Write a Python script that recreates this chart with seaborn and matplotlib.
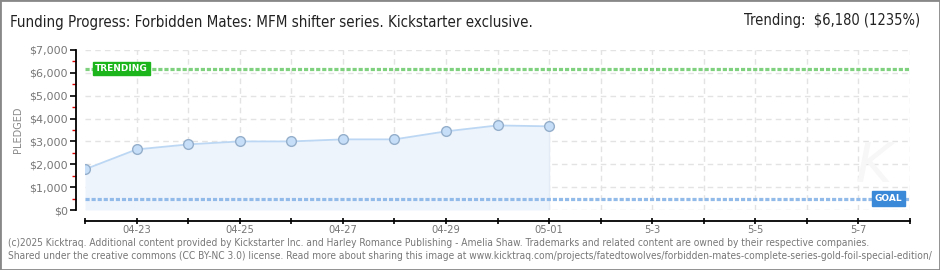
import matplotlib
matplotlib.use("Agg")
import matplotlib.pyplot as plt
import seaborn as sns
import pandas as pd
import numpy as np
from matplotlib.patches import Rectangle
from matplotlib.ticker import FixedLocator, MultipleLocator, FuncFormatter

# ---- data ----
days = ["04-22", "04-23", "04-24", "04-25", "04-26", "04-27", "04-28", "04-29", "04-30", "05-01"]
pledged = [1780, 2650, 2870, 3000, 3000, 3090, 3090, 3440, 3700, 3660]
tick_labels = ["04-23", "04-25", "04-27", "04-29", "05-01", "5-3", "5-5", "5-7"]
tick_days = [1, 3, 5, 7, 9, 11, 13, 15]
n_days_total = 16
goal = 500
trending = 6180
title = "Funding Progress: Forbidden Mates: MFM shifter series. Kickstarter exclusive."
trend_text = "Trending:  $6,180 (1235%)"
footer1 = ("(c)2025 Kicktraq. Additional content provided by Kickstarter Inc. and Harley Romance Publishing - "
           "Amelia Shaw. Trademarks and related content are owned by their respective companies.")
footer2 = ("Shared under the creative commons (CC BY-NC 3.0) license. Read more about sharing this image at "
           "www.kicktraq.com/projects/fatedtowolves/forbidden-mates-complete-series-gold-foil-special-edition/")

sns.set_style("white")
plt.rcParams['font.family'] = ['DejaVu Sans']

df = pd.DataFrame({"day": np.arange(len(days)), "pledged": pledged})

W, H = 940, 270
fig = plt.figure(figsize=(W / 100, H / 100), dpi=100)
fig.patch.set_facecolor("white")
ax = fig.add_axes([85 / W, 60 / H, (910 - 85) / W, 160 / H])

# grid
for v in range(0, 7001, 1000):
    ax.axhline(v, color="#e3e3e3", lw=1, ls=(0, (4, 3)), zorder=0)
for d in range(1, n_days_total + 1):
    ax.axvline(d, color="#e3e3e3", lw=1, ls=(0, (4, 3)), zorder=0)

# fill
ax.fill_between(df["day"], df["pledged"], 0, color="#eef4fc", zorder=1, lw=0)
ax.plot([df["day"].iloc[-1]] * 2, [0, df["pledged"].iloc[-1]], color="#e2ebf6", lw=1, zorder=1)

# goal / trending lines
ax.axhline(goal, color="#93bbe9", lw=2.3, ls=(0, (1.3, 0.6)), zorder=2)
ax.axhline(trending, color="#7fd07f", lw=2.3, ls=(0, (1.3, 0.6)), zorder=2)

sns.lineplot(data=df, x="day", y="pledged", ax=ax, color="#bcd7f3", lw=1.3,
             marker="o", markersize=7, markerfacecolor="#c6def7",
             markeredgecolor="#94aecb", markeredgewidth=1, zorder=3)

ax.set_xlim(0, n_days_total)
ax.set_ylim(0, 7000)

# labels on lines
ax.text(0.2, trending, "TRENDING", color="white", fontsize=6.5, fontweight="bold",
        va="center", ha="left", zorder=4,
        bbox=dict(boxstyle="square,pad=0.25", fc="#1cb51c", ec="#1cb51c"))
ax.text(15.85, goal, "GOAL", color="white", fontsize=6.5, fontweight="bold",
        va="center", ha="right", zorder=4,
        bbox=dict(boxstyle="square,pad=0.3", fc="#3a88d8", ec="#3a88d8"))

# watermark
ax.text(15.3, 1900, "K", fontsize=40, style="italic", color="#f7f7f7",
        ha="center", va="center", zorder=0.5)

# spines
for s in ["top", "right"]:
    ax.spines[s].set_visible(False)
ax.spines["left"].set_position(("outward", 6.5))
ax.spines["bottom"].set_position(("outward", 8))
for s in ["left", "bottom"]:
    ax.spines[s].set_color("black")
    ax.spines[s].set_linewidth(1.3)

ax.tick_params(which="both", bottom=True, left=True, top=False, right=False)

ax.yaxis.set_major_locator(MultipleLocator(1000))
ax.yaxis.set_minor_locator(MultipleLocator(500))
ax.yaxis.set_major_formatter(FuncFormatter(lambda v, p: f"${int(v):,}"))
ax.tick_params(axis="y", which="major", length=4, width=1.2, color="black",
               labelsize=8, labelcolor="#777777", pad=2)
ax.tick_params(axis="y", which="minor", length=3, width=1, color="#dd0000")

ax.xaxis.set_major_locator(FixedLocator(tick_days))
ax.xaxis.set_minor_locator(FixedLocator([d for d in range(0, n_days_total + 1) if d not in tick_days]))
ax.set_xticklabels(tick_labels)
ax.tick_params(axis="x", which="both", length=4, width=1.2, color="black", direction="inout",
               labelsize=7.2, labelcolor="#777777", pad=0.5)

ax.set_xlabel("")
ax.set_ylabel("PLEDGED", fontsize=7, color="#888888", labelpad=4)

# texts
fig.text(10 / W, 1 - 23 / H, title, fontsize=10.8, color="#222222", va="center", ha="left",
         fontstretch="condensed")
fig.text(920 / W, 1 - 21 / H, trend_text, fontsize=10.5, color="#222222", va="center", ha="right",
         fontstretch="condensed")
fig.text(8 / W, 1 - 243 / H, footer1, fontsize=7.3, color="#777777", va="center", ha="left",
         fontstretch="condensed")
fig.text(8 / W, 1 - 256 / H, footer2, fontsize=7.3, color="#777777", va="center", ha="left",
         fontstretch="condensed")

# frame
fig.patches.append(Rectangle((0, 0), 1, 1, transform=fig.transFigure, fill=False,
                             ec="#888888", lw=2, zorder=10))

fig.savefig("out.png", dpi=100, facecolor="white")
